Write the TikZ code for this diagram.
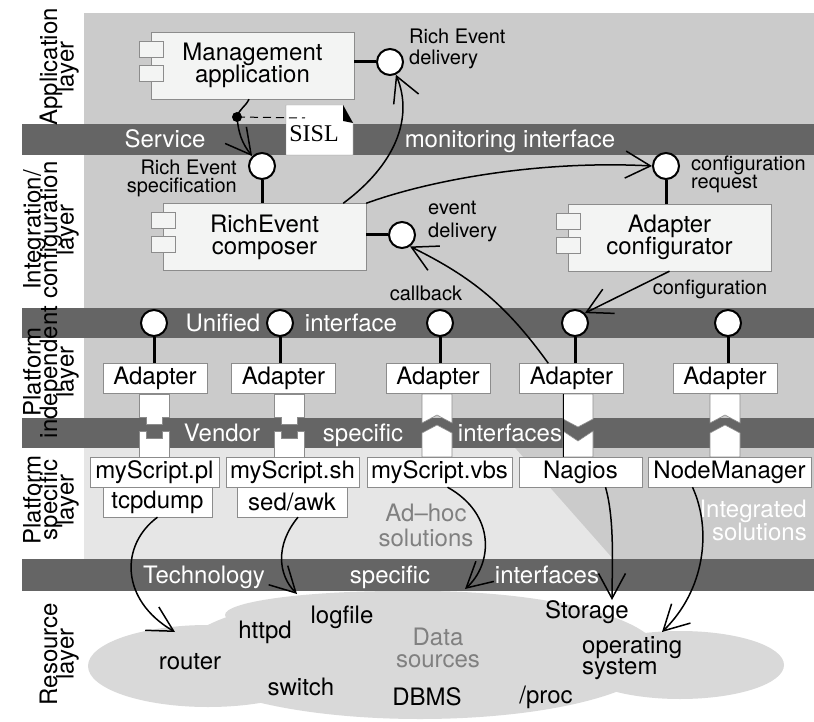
\documentclass[tikz,border=0pt]{standalone}
\usepackage{fontspec}
\setmainfont{TeX Gyre Heros}
\newfontfamily\serifnote{Liberation Serif}
\usetikzlibrary{arrows.meta, positioning}

\definecolor{bggray}{HTML}{CBCBCB}
\definecolor{bandgray}{HTML}{656565}
\definecolor{psgray}{HTML}{E6E6E6}
\definecolor{cloudgray}{HTML}{D9D9D9}
\definecolor{compfill}{HTML}{F3F4F3}
\definecolor{boxline}{HTML}{8C8C8C}
\definecolor{softtext}{HTML}{808080}
% text sizes; lines may sit closer than the glyphs are tall
\newcommand\sizedtxt[2]{\fontsize{#1}{#2}\selectfont\lineskiplimit=-50pt}
\newcommand\bigtxt{\sizedtxt{24}{22}}
\newcommand\smalltxt{\sizedtxt{20}{18}}

\begin{document}
\begin{tikzpicture}[x=1pt, y=1pt,
  layer/.style={rotate=90, anchor=south, align=center, inner sep=0pt,
    font=\sizedtxt{24}{16.5}},
  bandtext/.style={anchor=base, text=white, inner sep=0pt, font=\bigtxt},
  comp/.style={draw=boxline, fill=compfill, minimum width=203pt,
    minimum height=67pt, align=center, font=\bigtxt},
  comptab/.style={draw=boxline, fill=compfill},
  port/.style={circle, draw, line width=2pt, fill=white, minimum size=26pt,
    inner sep=0pt},
  dot/.style={circle, fill, minimum size=10pt, inner sep=0pt},
  box/.style={draw=boxline, fill=white, minimum height=30pt, inner sep=1pt,
    font=\bigtxt},
  lbl/.style={inner sep=0pt, font=\smalltxt},
  res/.style={inner sep=0pt, font=\bigtxt},
  wire/.style={line width=3pt},
  flow/.style={line width=1.5pt, -{Straight Barb[length=25pt, width=27pt]}},
  plug/.style={fill=white, draw=boxline, line width=0.6pt}]

   % layers
   \useasboundingbox (0,0) rectangle (814,-722);
   \fill[white] (0,0) rectangle (814,-722);
   \fill[bggray] (84,-13) rectangle (814,-559);
   \fill[psgray] (84,-448) -- (515,-448) -- (613,-559) -- (84,-559) -- cycle;

   % data source cloud
   \fill[cloudgray] (208,-666) ellipse [x radius=120, y radius=41];
   \fill[cloudgray] (420,-655) ellipse [x radius=240, y radius=64];
   \fill[cloudgray] (400,-615) ellipse [x radius=175, y radius=24];
   \fill[cloudgray] (680,-665) ellipse [x radius=104, y radius=34];

   \fill[bandgray] (22,-124) rectangle (814,-155);
   \fill[bandgray] (22,-308) rectangle (814,-338);
   \fill[bandgray] (22,-418) rectangle (814,-448);
   \fill[bandgray] (22,-559) rectangle (814,-591);

   \node[layer] (l_app) at (79,-67) {Application\\layer};
   \node[layer] (l_int) at (79,-230) {Integration/\\configuration\\layer};
   \node[layer] (l_pin) at (79,-372) {Platform\\independent\\layer};
   \node[layer] (l_psp) at (79,-500) {Platform\\specific\\layer};
   \node[layer] (l_res) at (79,-654) {Resource\\layer};

   \node[bandtext] (b_svc) at (165,-148) {Service};
   \node[bandtext] (b_mon) at (510,-148) {monitoring interface};
   \node[bandtext] (b_uni) at (223,-331.5) {Unified};
   \node[bandtext] (b_uif) at (351,-331.5) {interface};
   \node[bandtext] (b_ven) at (222,-441.5) {Vendor};
   \node[bandtext] (b_vsp) at (363,-441.5) {specific};
   \node[bandtext] (b_vif) at (510,-441.5) {interfaces};
   \node[bandtext] (b_tec) at (204,-583.5) {Technology};
   \node[bandtext] (b_tsp) at (390,-583.5) {specific};
   \node[bandtext] (b_tif) at (547,-583.5) {interfaces};

   % components
   \node[comp] (mgmt) at (252.5,-65.5) {Management\\application};
   \node[comp] (composer) at (264.5,-237) {RichEvent\\composer};
   \node[comp] (adcfg) at (669.5,-237.5) {Adapter\\configurator};
   \foreach \c in {mgmt,composer,adcfg}{
     \draw[comptab] ([shift={(-12,-9)}]\c.north west) rectangle ++(24,-16);
     \draw[comptab] ([shift={(-12,-33)}]\c.north west) rectangle ++(24,-16);
   }

   % SISL note
   \filldraw[fill=white, draw=boxline] (286,-105) -- (343,-105) -- (353,-123)
     -- (353,-155) -- (286,-155) -- cycle;
   \fill (343,-105) -- (353,-123) -- (343,-121) -- cycle;
   \node[inner sep=0pt, font=\serifnote\fontsize{24}{24}\selectfont] (sisl)
     at (314,-134) {SISL};

   \node[port] (redl) at (390,-62) {};
   \node[port] (resp) at (262,-166) {};
   \node[port] (creq) at (666,-166) {};
   \node[port] (evd) at (402,-235) {};
   \node[port] (ui_1) at (154,-323) {};
   \node[port] (ui_2) at (280,-323) {};
   \node[port] (ui_3) at (440,-323) {};
   \node[port] (ui_4) at (575,-323) {};
   \node[port] (ui_5) at (728,-323) {};

   \node[lbl, anchor=west, align=left, font=\sizedtxt{20}{21}]
     (redl_t) at (409,-49) {Rich Event\\delivery};
   \node[lbl, anchor=east, align=right] (resp_t) at (237,-178)
     {Rich Event\\specification};
   \node[lbl, anchor=west, align=left] (creq_t) at (691,-174)
     {configuration\\request};
   \node[lbl, anchor=west, align=left, font=\sizedtxt{20}{23}]
     (evd_t) at (428,-222) {event\\delivery};
   \node[lbl] (cfg_t) at (710,-289) {configuration};
   \node[lbl] (cb_t) at (426,-293) {callback};

   \draw[wire] (mgmt.east |- redl) -- (redl);
   \draw[wire] (resp) -- (composer.north -| resp);
   \draw[wire] (creq) -- (adcfg.north -| creq);
   \draw[wire] (composer.east |- evd) -- (evd);

   % adapters and plugs
   \foreach \px in {154.5,289.5}{
     \filldraw[plug] (\px-15,-394) -- ++(30,0) -- ++(0,-23) -- ++(-7,0)
       -- ++(0,-7) -- ++(-16,0) -- ++(0,7) -- ++(-7,0) -- cycle;
     \filldraw[plug] (\px-15,-457) -- ++(0,26) -- ++(7,0) -- ++(0,-7)
       -- ++(16,0) -- ++(0,7) -- ++(7,0) -- ++(0,-26) -- cycle;
   }
   \foreach \px in {437,725}{
     \filldraw[plug] (\px-15,-394) -- (\px+15,-394) -- (\px+15,-423)
       -- (\px,-415) -- (\px-15,-423) -- cycle;
     \filldraw[plug] (\px-15,-457) -- (\px-15,-433) -- (\px,-425)
       -- (\px+15,-433) -- (\px+15,-457) -- cycle;
   }
   \filldraw[plug] (563,-394) -- (593,-394) -- (593,-419) -- (578,-427)
     -- (563,-419) -- cycle;
   \filldraw[plug] (563,-457) -- (563,-431) -- (578,-441) -- (593,-431)
     -- (593,-457) -- cycle;
   \draw[line width=1pt] (563,-394) -- (563,-457);

   \node[box, minimum width=104pt] (ad_1) at (155,-378.5) {Adapter};
   \node[box, minimum width=104pt] (ad_2) at (283.5,-378.5) {Adapter};
   \node[box, minimum width=104pt] (ad_3) at (438,-378.5) {Adapter};
   \node[box, minimum width=104pt] (ad_4) at (571.5,-378.5) {Adapter};
   \node[box, minimum width=104pt] (ad_5) at (725,-378.5) {Adapter};
   \foreach \i in {1,...,5}
     \draw[wire] (ui_\i) -- (ui_\i |- ad_\i.north);

   \node[box, minimum width=129pt] (sc_1) at (154.5,-472) {myScript.pl};
   \node[box, minimum width=133pt] (sc_2) at (292.5,-472) {myScript.sh};
   \node[box, minimum width=145pt] (sc_3) at (439.5,-472) {myScript.vbs};
   \node[box, minimum width=123pt] (sc_4) at (580.5,-472) {Nagios};
   \node[box, minimum width=163pt] (sc_5) at (729.5,-472) {NodeManager};
   \node[box, minimum width=109pt] (tcp) at (157.5,-502) {tcpdump};
   \node[box, minimum width=110pt] (sed) at (292,-502) {sed/awk};

   \node[inner sep=0pt, anchor=north, align=center, text=softtext,
     font=\sizedtxt{24}{25}] (adhoc) at (426,-504) {Ad–hoc\\solutions};
   \node[inner sep=0pt, anchor=north east, align=right, text=white,
     font=\sizedtxt{24}{23}] (integ) at (807,-500) {Integrated\\solutions};

   % resources
   \node[res] (router) at (190,-662) {router};
   \node[res] (httpd) at (265,-632) {httpd};
   \node[res] (logfile) at (342,-617) {logfile};
   \node[res] (switch) at (301,-687) {switch};
   \node[res] (dbms) at (427,-697) {DBMS};
   \node[res] (proc) at (546,-697) {/proc};
   \node[res] (storage) at (587,-612) {Storage};
   \node[res, anchor=west, align=left, font=\sizedtxt{24}{21}]
     (os) at (582,-658) {operating\\system};
   \node[res, align=center, text=softtext] (datasrc) at (438,-648)
     {Data\\sources};

   % connectors
   \node[dot] (jn) at (237,-117) {};
   \coordinate (dashend) at (305,-118);
   \draw[dashed, dash pattern=on 8pt off 5pt, line width=1pt] (jn.center) -- (dashend);
   \draw[flow] ([xshift=-3.5pt]mgmt.south) to[out=-115, in=75] (jn.center)
     to[out=-85, in=128] (resp.north west);
   \draw[flow] ([xshift=-23pt]composer.north east) .. controls (395,-165)
     and (414,-118) .. (redl.-65);
   \draw[flow] (composer.north east) .. controls (430,-180) and (540,-160)
     .. (creq.west);
   \draw[flow] (adcfg.south) -- (ui_4.north east);
   \draw[flow] ([xshift=29pt]ad_4.north west) to[bend right=14] (evd.-55);

   \coordinate (to_router) at (175,-632);
   \coordinate (to_logfile) at (297,-594);
   \coordinate (to_dbms) at (465,-589);
   \coordinate (to_storage) at (612,-600);
   \coordinate (to_os) at (662,-632);
   \draw[flow] (tcp.south) .. controls (120,-545) and (120,-600) .. (to_router);
   \draw[flow] ([xshift=6pt]sed.south) .. controls (275,-545) and (278,-575)
     .. (to_logfile);
   \draw[flow] ([xshift=8pt]sc_3.south) .. controls (497,-515) and (492,-565)
     .. (to_dbms);
   \draw[flow] ([xshift=25pt]sc_4.south) .. controls (615,-520) and (612,-570)
     .. (to_storage);
   \draw[flow] ([xshift=-37pt]sc_5.south) .. controls (712,-530) and (705,-590)
     .. (to_os);
\end{tikzpicture}
\end{document}
